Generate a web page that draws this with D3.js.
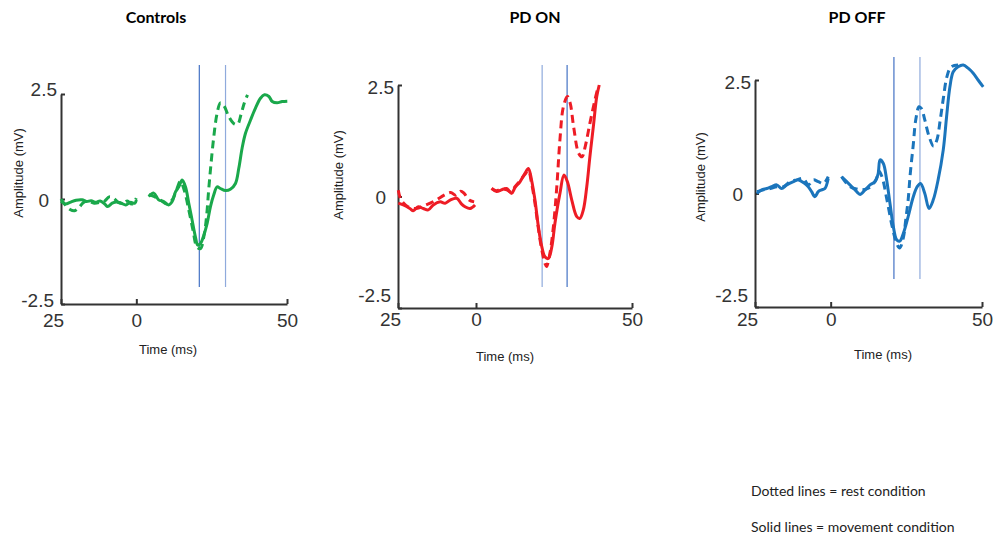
<!DOCTYPE html>
<html>
    <head>
        <meta charset="utf-8">
        <title>MEP amplitude</title>
        <script src="https://d3js.org/d3.v7.min.js"></script>
    </head>
    <body style="margin:0;background:#fff;">

        <style type="text/css">
            .trace {
                fill: none;
                stroke-width: 3;
                stroke-linejoin: round;
            }
            .rest {
                stroke-dasharray: 8,5;
            }
            .axis path, .axis line {
                stroke: #333;
                stroke-width: 2;
            }
            .axis text {
                font-family: "Liberation Sans", Arial, sans-serif;
                font-size: 19px;
                fill: #333;
            }
            .title {
                font-family: Lato, "Open Sans", sans-serif;
                font-weight: bold;
                font-size: 16px;
                fill: #000;
            }
            .axlabel {
                font-family: "Liberation Sans", Arial, sans-serif;
                font-size: 13px;
                fill: #222;
            }
            .note {
                font-family: Lato, "Open Sans", sans-serif;
                font-size: 14px;
                fill: #222;
            }
        </style>

        <script>
            // axis ticks (x label at -25 shows as "25" in the original)
            var timeTicks = [-25, 0, 50];
            var timeTickLabels = ["25", "0", "50"];
            var ampTicks = [2.5, 0, -2.5];
            var ampTickLabels = ["2.5", "0", "-2.5"];

            var panelTitles = ["Controls", "PD ON", "PD OFF"];
            var seriesColors = ["#1aa84b", "#ee1c25", "#1b75bc"];

            // cursor times (ms) for each panel
            var ctrlCursors = [20.9, 29.6];
            var onCursors = [21.2, 29.2];
            var offCursors = [20.9, 29.5];

            // Controls: [time ms, amplitude mV]
            var ctrlMovePre = [[-25,-0.05],[-23.5,-0.12],[-22,-0.08],[-20,-0.03],[-18,-0.02],[-16.5,-0.06],[-15,-0.04],[-13.5,-0.08],[-12,-0.05],[-10.5,-0.12],[-9.5,-0.18],[-8,-0.1],[-6.5,-0.07],[-5,-0.1],[-3.5,-0.14],[-2,-0.08],[-0.5,-0.1],[0,-0.02]];
            var ctrlRestPre = [[-25,0],[-23.5,-0.15],[-22,-0.25],[-20.5,-0.28],[-19,-0.2],[-17.5,-0.08],[-16,-0.05],[-14,-0.1],[-12,-0.08],[-10.5,-0.05],[-9,0.05],[-7.5,0.02],[-6,-0.08],[-4.5,-0.1],[-3,-0.05],[-1.5,-0.12],[0,0.02]];
            var ctrlMovePost = [[4.1,0.06],[5.8,0.14],[7.4,-0.02],[9.1,-0.06],[10.7,-0.14],[11.9,-0.06],[13,0.17],[14.1,0.29],[15.2,0.45],[16.3,0.29],[17.4,-0.1],[18.5,-0.5],[19.6,-0.9],[20.4,-1.1],[21.3,-1.06],[22.4,-0.86],[23.5,-0.58],[24.6,-0.18],[25.7,0.1],[26.8,0.29],[27.9,0.25],[29.6,0.2],[31.2,0.23],[32.9,0.37],[34,0.73],[35.1,1.21],[36.2,1.56],[37.9,1.88],[39.5,2.16],[41.2,2.4],[42.5,2.48],[44,2.44],[45.1,2.32],[46.7,2.29],[48.4,2.32],[50.1,2.33]];
            var ctrlRestPost = [[4.1,0.1],[5.8,0.06],[7.9,-0.02],[10.1,-0.12],[11.9,-0.02],[13.5,0.25],[14.6,0.42],[15.9,0.21],[17.4,-0.26],[18.8,-0.74],[20.1,-1.14],[21.3,-1.18],[22.4,-0.9],[23.3,-0.42],[24,0.21],[24.8,0.85],[25.7,1.48],[26.8,2.04],[27.9,2.29],[29,2.23],[30.7,1.96],[32.3,1.8],[33.6,1.78],[34.7,2],[35.8,2.28],[36.9,2.48]];

            // PD ON
            var onMovePre = [[-24.9,-0.15],[-23.3,-0.19],[-21.2,-0.27],[-20.1,-0.32],[-18.5,-0.23],[-16.9,-0.27],[-15.3,-0.3],[-13.7,-0.19],[-11.5,-0.12],[-9.9,-0.15],[-8.3,-0.08],[-6.2,-0.04],[-4.6,-0.17],[-3.5,-0.23],[-1.9,-0.27],[-0.3,-0.19]];
            var onRestPre = [[-24.9,0.14],[-24,-0.08],[-21.8,-0.23],[-19.2,-0.27],[-16,-0.19],[-12.8,-0.08],[-10.2,0.03],[-8.1,0.09],[-6.5,0.03],[-4.9,0.12],[-3.8,0.07],[-2.2,-0.08],[-0.6,-0.12]];
            var onMovePost = [[5,0.18],[6.6,0.11],[8.2,0.15],[9.8,0.18],[11.4,0.07],[12.5,0.2],[14.1,0.33],[15.7,0.52],[16.8,0.63],[17.8,0.37],[18.9,-0.08],[20,-0.68],[21.1,-1.13],[22.1,-1.35],[23.2,-1.39],[24.3,-1.13],[25.3,-0.6],[26.9,0.07],[28.2,0.48],[29.3,0.33],[30.7,-0.08],[32.3,-0.45],[33.3,-0.49],[34.4,-0.3],[35.5,0.22],[36.5,0.89],[37.6,1.56],[38.7,2.24],[39.5,2.5]];
            var onRestPost = [[5,0.18],[6.6,0.13],[8.2,0.17],[9.8,0.15],[11.4,0.1],[12.5,0.22],[14.1,0.35],[15.7,0.5],[16.8,0.58],[17.8,0.3],[18.9,-0.15],[20,-0.72],[21.1,-1.2],[22.1,-1.5],[22.6,-1.57],[23.7,-1.27],[24.8,-0.68],[25.9,0.22],[26.9,1.27],[28,2.01],[29.3,2.24],[30.2,2.09],[31.3,1.56],[32.9,0.97],[34,0.89],[35,1.12],[36.5,1.64],[38.1,2.16],[39.2,2.47]];

            // PD OFF
            var offMovePre = [[-24.4,0],[-22.8,0.08],[-21.1,0.11],[-19.5,0.15],[-17.8,0.19],[-16.2,0.11],[-14.5,0.19],[-12.3,0.26],[-10.7,0.3],[-9,0.24],[-7.4,0.15],[-6.3,0.04],[-5.2,-0.07],[-4.1,0.04],[-3,0.08],[-1.9,0.11],[-0.8,0.33]];
            var offRestPre = [[-24.4,0.04],[-22.2,0.08],[-20,0.11],[-17.8,0.15],[-15.6,0.15],[-13.4,0.26],[-11.2,0.3],[-9,0.33],[-7.4,0.19],[-5.7,0.3],[-4.1,0.26],[-2.4,0.22],[-0.8,0.37]];
            var offMovePost = [[3.6,0.37],[5.3,0.26],[7,0.15],[8.6,0.04],[9.7,-0.02],[11.4,0.08],[13,0.19],[14.6,0.26],[15.7,0.44],[16.3,0.74],[17.4,0.66],[18.5,0.3],[19.6,-0.22],[20.7,-0.73],[21.8,-1.02],[22.8,-1.05],[24,-0.88],[25.6,-0.51],[27.3,-0.07],[28.6,0.15],[29.7,0.22],[31.1,0],[32.5,-0.33],[33.9,-0.14],[35.5,0.3],[37.2,0.96],[38.3,1.69],[39.4,2.35],[40.5,2.68],[42.1,2.79],[43.8,2.83],[45.4,2.76],[47.1,2.65],[48.7,2.5],[50.4,2.35]];
            var offRestPost = [[3.6,0.37],[5.3,0.22],[7,0.13],[8.6,0.1],[10.3,0.08],[11.9,0.1],[13.5,0.17],[15.1,0.32],[15.9,0.5],[17,0.36],[18.6,-0.14],[20.3,-0.72],[21.8,-1.1],[22.8,-1.2],[24,-0.98],[24.8,-0.58],[25.6,-0.14],[26.3,0.44],[27.3,1.08],[28.1,1.62],[29.2,1.91],[30,1.87],[31.1,1.62],[32.5,1.26],[34,1.04],[35.1,1.18],[36.2,1.62],[37.3,2.13],[38.4,2.57],[39.8,2.79],[42.1,2.83]];

            var panelData = [
                { rest: [ctrlRestPre, ctrlRestPost], move: [ctrlMovePre, ctrlMovePost], cursors: ctrlCursors },
                { rest: [onRestPre, onRestPost], move: [onMovePre, onMovePost], cursors: onCursors },
                { rest: [offRestPre, offRestPost], move: [offMovePre, offMovePost], cursors: offCursors }
            ];

            // pixel layout of each panel (taken from the figure)
            var layout = [
                { left: 61, right: 287, top: 94, bottom: 304, titleX: 156, ylabX: 18, ylabY: 173, xlabX: 168, xlabY: 354, curTop: 65, curBot: 287, xPad: 10, topDy: -5, botDy: -4, curCol: ["#4472c4", "#8faadc"] },
                { left: 398, right: 632, top: 85, bottom: 308, titleX: 535, ylabX: 338, ylabY: 175, xlabX: 505, xlabY: 361, curTop: 65, curBot: 287, xPad: 5, topDy: 2, botDy: -13, curCol: ["#8faadc", "#4472c4"] },
                { left: 755, right: 982, top: 80, bottom: 307, titleX: 857, ylabX: 700, ylabY: 177, xlabX: 883, xlabY: 359, curTop: 57, curBot: 279, xPad: 6, topDy: 2, botDy: -12, curCol: ["#4472c4", "#8faadc"] }
            ];

            var svg = d3.select("body").append("svg")
                            .attr("width", 1002)
                            .attr("height", 538);

            layout.forEach(function (L, p) {
                var D = panelData[p];
                var col = seriesColors[p];

                var xScale = d3.scaleLinear().domain([-25, 50]).range([L.left, L.right]);
                var yScale = d3.scaleLinear().domain([-2.5, 2.5]).range([L.bottom, L.top]);

                var line = d3.line()
                                .x(d => xScale(d[0]))
                                .y(d => yScale(d[1]))
                                .curve(d3.curveCatmullRom);

                var g = svg.append("g");

                g.append("text")
                    .attr("class", "title")
                    .attr("x", L.titleX)
                    .attr("y", 23)
                    .attr("text-anchor", "middle")
                    .text(panelTitles[p]);

                // x axis, ticks pointing up
                var xAx = g.append("g")
                    .attr("class", "axis")
                    .attr("transform", "translate(0," + L.bottom + ")")
                    .call(d3.axisBottom(xScale)
                        .tickValues(timeTicks)
                        .tickSize(-5)
                        .tickSizeOuter(0)
                        .tickPadding(L.xPad)
                        .tickFormat((d, i) => timeTickLabels[i]));
                xAx.selectAll(".tick text").attr("dx", (d, i) => i == 0 ? -8 : 0);

                // y axis, ticks pointing right
                var yAx = g.append("g")
                    .attr("class", "axis")
                    .attr("transform", "translate(" + L.left + ",0)")
                    .call(d3.axisLeft(yScale)
                        .tickValues(ampTicks)
                        .tickSize(-4)
                        .tickSizeOuter(0)
                        .tickPadding(4)
                        .tickFormat((d, i) => ampTickLabels[i]));
                yAx.selectAll(".tick text")
                    .attr("dx", (d, i) => [0, -8, -3][i])
                    .attr("y", (d, i) => [L.topDy, 1, L.botDy][i]);

                g.append("text")
                    .attr("class", "axlabel")
                    .attr("transform", "translate(" + L.ylabX + "," + L.ylabY + ") rotate(-90)")
                    .attr("text-anchor", "middle")
                    .attr("dy", "0.35em")
                    .text("Amplitude (mV)");

                g.append("text")
                    .attr("class", "axlabel")
                    .attr("x", L.xlabX)
                    .attr("y", L.xlabY)
                    .attr("text-anchor", "middle")
                    .text("Time (ms)");

                // cursor lines
                g.selectAll(".cursor")
                    .data(D.cursors).enter().append("line")
                    .attr("class", "cursor")
                    .attr("x1", d => xScale(d))
                    .attr("x2", d => xScale(d))
                    .attr("y1", L.curTop)
                    .attr("y2", L.curBot)
                    .attr("stroke", (d, i) => L.curCol[i])
                    .attr("stroke-width", 1.2);

                g.selectAll(".rest")
                    .data(D.rest).enter().append("path")
                    .attr("class", "trace rest")
                    .attr("stroke", col)
                    .attr("d", line);

                g.selectAll(".move")
                    .data(D.move).enter().append("path")
                    .attr("class", "trace move")
                    .attr("stroke", col)
                    .attr("d", line);
            });

            svg.append("text").attr("class", "note")
                .attr("x", 751).attr("y", 496)
                .text("Dotted lines = rest condition");
            svg.append("text").attr("class", "note")
                .attr("x", 751).attr("y", 532)
                .text("Solid lines = movement condition");
        </script>
    </body>
</html>
